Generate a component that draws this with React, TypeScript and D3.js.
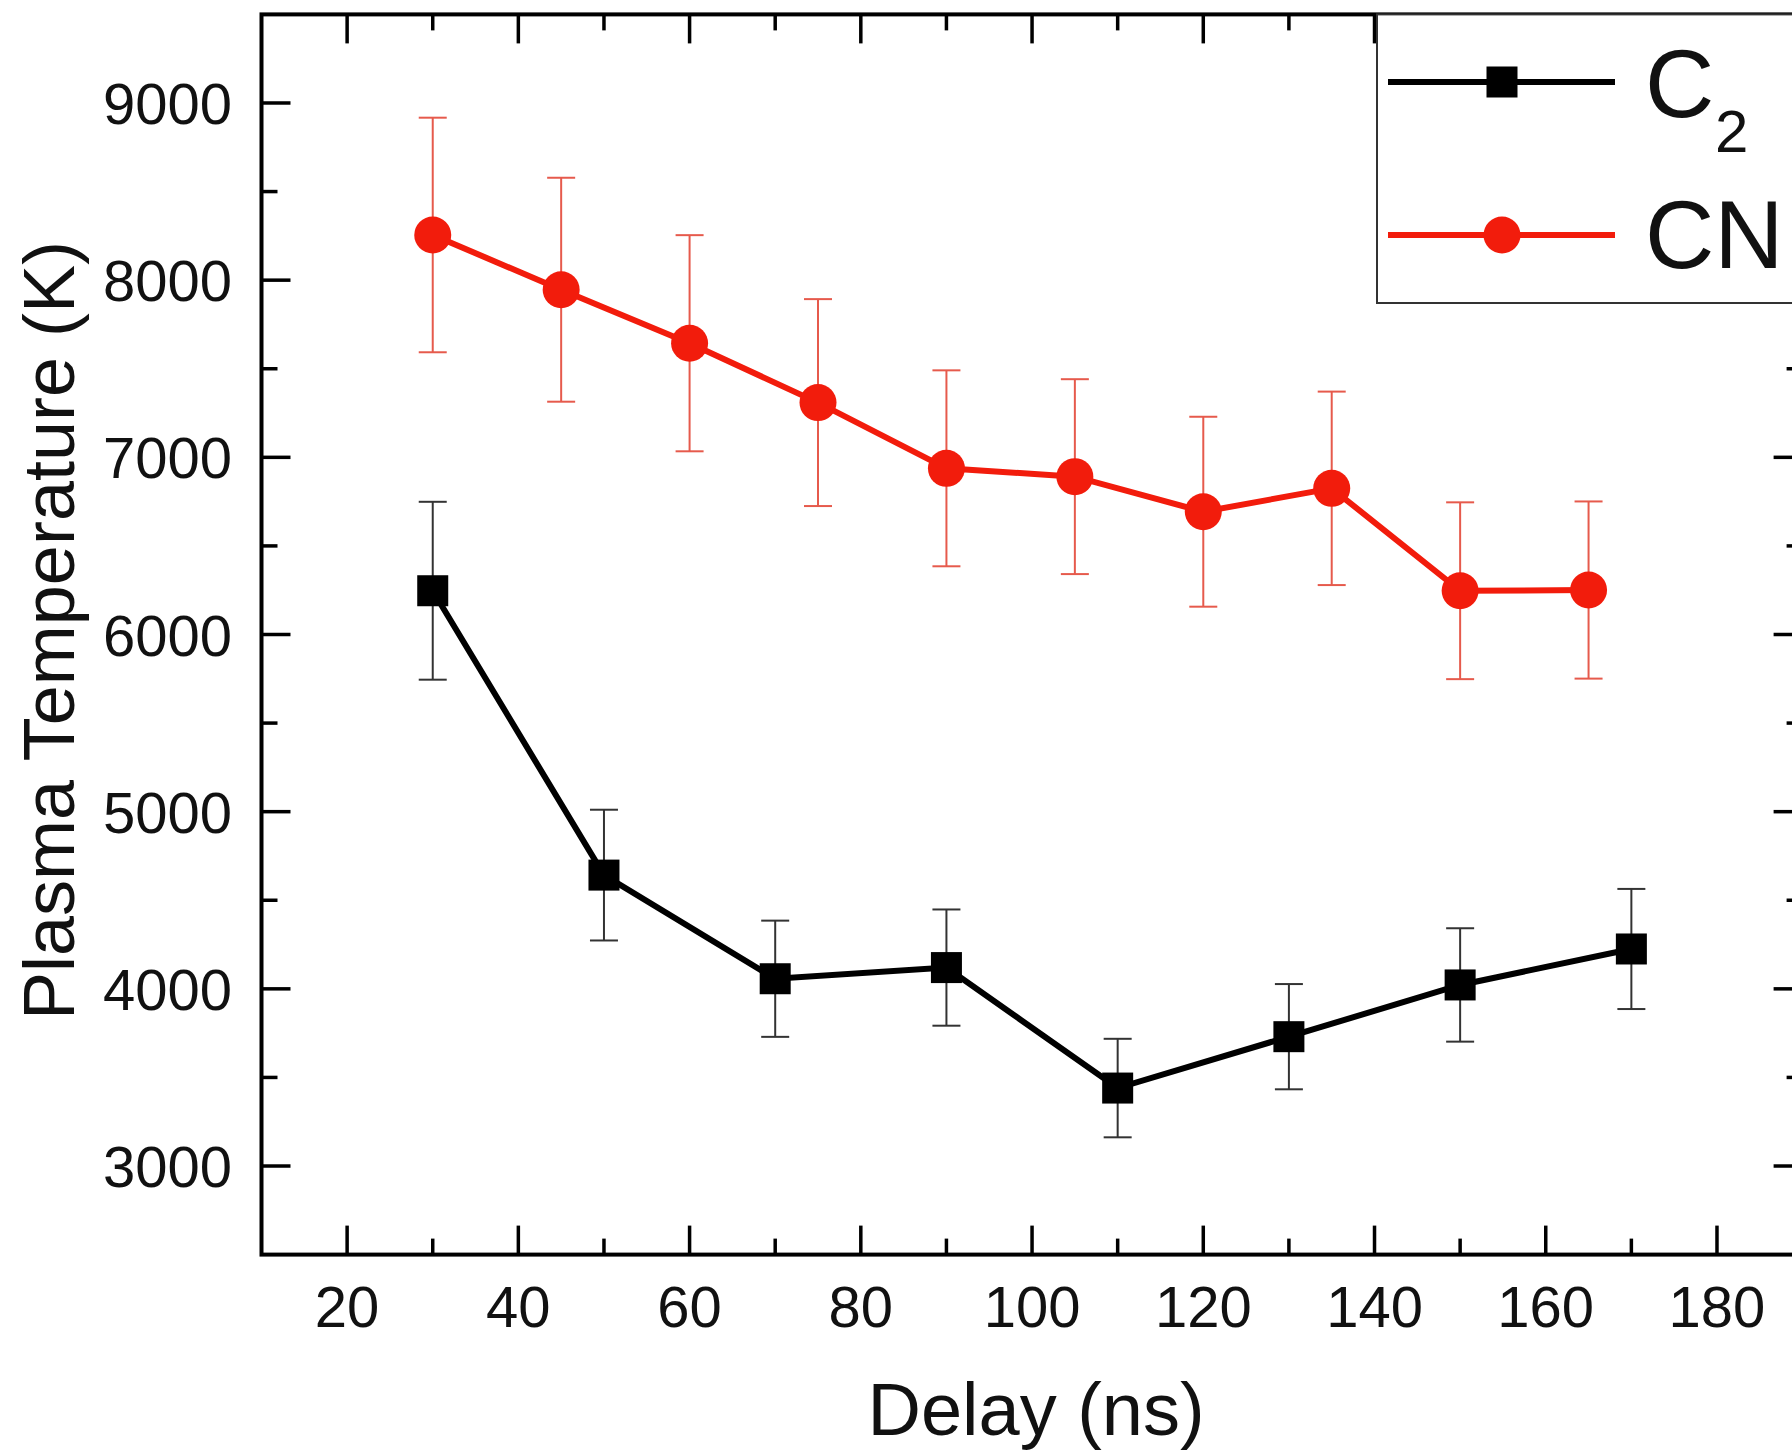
import React from "react";
import * as d3 from "d3";

const delayC2 = [30, 50, 70, 90, 110, 130, 150, 170];
const tempC2 = [6247, 4642, 4057, 4120, 3440, 3730, 4022, 4225];
const errC2 = [502, 369, 328, 328, 278, 297, 320, 339];

const delayCN = [30, 45, 60, 75, 90, 105, 120, 135, 150, 165];
const tempCN = [8255, 7946, 7644, 7309, 6938, 6891, 6693, 6825, 6247, 6251];
const errCN = [662, 632, 610, 584, 553, 550, 536, 546, 499, 500];

const xMajor = [20, 40, 60, 80, 100, 120, 140, 160, 180];
const xMinor = [30, 50, 70, 90, 110, 130, 150, 170];
const yMajor = [3000, 4000, 5000, 6000, 7000, 8000, 9000];
const yMinor = [3500, 4500, 5500, 6500, 7500, 8500];

const xDomain = [10, 190];
const yDomain = [2500, 9500];

const W = 1792;
const H = 1452;
const L = 261.5;
const R = 1802.6;
const T = 14.4;
const B = 1254.6;

const FONT = "'Liberation Sans', Arial, Helvetica, sans-serif";
const RED = "#f21c0c";
const RED_ERR = "#e65a4c";

export default function App() {
  const x = d3.scaleLinear().domain(xDomain).range([L, R]);
  const y = d3.scaleLinear().domain(yDomain).range([B, T]);

  const c2 = delayC2.map((d, i) => ({ x: d, y: tempC2[i], e: errC2[i] }));
  const cn = delayCN.map((d, i) => ({ x: d, y: tempCN[i], e: errCN[i] }));

  const line = d3
    .line<{ x: number; y: number }>()
    .x((d) => x(d.x))
    .y((d) => y(d.y));

  const majLen = 29;
  const minLen = 16;
  const capW = 28;
  const sq = 31;
  const cr = 18.5;

  return (
    <svg
      width={W}
      height={H}
      style={{ position: "absolute", left: 0, top: 0, background: "#fff" }}
      fontFamily={FONT}
    >
      <rect x={0} y={0} width={W} height={H} fill="#fff" />

      {/* ticks */}
      <g stroke="#000" strokeWidth={3.5}>
        {xMajor.map((t) => (
          <g key={"xm" + t}>
            <line x1={x(t)} x2={x(t)} y1={B} y2={B - majLen} />
            <line x1={x(t)} x2={x(t)} y1={T} y2={T + majLen} />
          </g>
        ))}
        {xMinor.map((t) => (
          <g key={"xn" + t}>
            <line x1={x(t)} x2={x(t)} y1={B} y2={B - minLen} />
            <line x1={x(t)} x2={x(t)} y1={T} y2={T + minLen} />
          </g>
        ))}
        {yMajor.map((t) => (
          <g key={"ym" + t}>
            <line x1={L} x2={L + majLen} y1={y(t)} y2={y(t)} />
            <line x1={R} x2={R - majLen} y1={y(t)} y2={y(t)} />
          </g>
        ))}
        {yMinor.map((t) => (
          <g key={"yn" + t}>
            <line x1={L} x2={L + minLen} y1={y(t)} y2={y(t)} />
            <line x1={R} x2={R - minLen} y1={y(t)} y2={y(t)} />
          </g>
        ))}
      </g>

      {/* frame */}
      <rect
        x={L}
        y={T}
        width={R - L}
        height={B - T}
        fill="none"
        stroke="#000"
        strokeWidth={4}
      />

      {/* tick labels */}
      <g fontSize={58} fill="#111">
        {xMajor.map((t) => (
          <text key={"xl" + t} x={x(t)} y={1327} textAnchor="middle">
            {t}
          </text>
        ))}
        {yMajor.map((t) => (
          <text key={"yl" + t} x={232} y={y(t) + 21} textAnchor="end">
            {t}
          </text>
        ))}
      </g>

      {/* axis titles */}
      <text x={(L + R) / 2 + 4} y={1435} fontSize={74} textAnchor="middle" fill="#111">
        Delay (ns)
      </text>
      <text
        transform={`translate(74,${(T + B) / 2 - 4}) rotate(-90)`}
        fontSize={72}
        textAnchor="middle"
        fill="#111"
      >
        Plasma Temperature (K)
      </text>

      {/* CN series */}
      <g stroke={RED_ERR} strokeWidth={2}>
        {cn.map((d, i) => (
          <g key={"cne" + i}>
            <line x1={x(d.x)} x2={x(d.x)} y1={y(d.y + d.e)} y2={y(d.y - d.e)} />
            <line x1={x(d.x) - capW / 2} x2={x(d.x) + capW / 2} y1={y(d.y + d.e)} y2={y(d.y + d.e)} />
            <line x1={x(d.x) - capW / 2} x2={x(d.x) + capW / 2} y1={y(d.y - d.e)} y2={y(d.y - d.e)} />
          </g>
        ))}
      </g>
      <path d={line(cn) || ""} fill="none" stroke={RED} strokeWidth={6} />
      {cn.map((d, i) => (
        <circle key={"cnp" + i} cx={x(d.x)} cy={y(d.y)} r={cr} fill={RED} />
      ))}

      {/* C2 series */}
      <g stroke="#333" strokeWidth={2}>
        {c2.map((d, i) => (
          <g key={"c2e" + i}>
            <line x1={x(d.x)} x2={x(d.x)} y1={y(d.y + d.e)} y2={y(d.y - d.e)} />
            <line x1={x(d.x) - capW / 2} x2={x(d.x) + capW / 2} y1={y(d.y + d.e)} y2={y(d.y + d.e)} />
            <line x1={x(d.x) - capW / 2} x2={x(d.x) + capW / 2} y1={y(d.y - d.e)} y2={y(d.y - d.e)} />
          </g>
        ))}
      </g>
      <path d={line(c2) || ""} fill="none" stroke="#000" strokeWidth={6} />
      {c2.map((d, i) => (
        <rect
          key={"c2p" + i}
          x={x(d.x) - sq / 2}
          y={y(d.y) - sq / 2}
          width={sq}
          height={sq}
          fill="#000"
        />
      ))}

      {/* legend */}
      <rect
        x={1377}
        y={T}
        width={R - 1377}
        height={303 - T}
        fill="#fff"
        stroke="#333"
        strokeWidth={2}
      />
      <line x1={1388} x2={1615} y1={82} y2={82} stroke="#000" strokeWidth={6} />
      <rect x={1502 - sq / 2} y={82 - sq / 2} width={sq} height={sq} fill="#000" />
      <text x={1645} y={117} fontSize={96} fill="#111">
        C
      </text>
      <text x={1715} y={152} fontSize={60} fill="#111">
        2
      </text>
      <line x1={1388} x2={1615} y1={235} y2={235} stroke={RED} strokeWidth={6} />
      <circle cx={1502} cy={235} r={cr} fill={RED} />
      <text x={1645} y={268} fontSize={96} fill="#111">
        CN
      </text>
    </svg>
  );
}
